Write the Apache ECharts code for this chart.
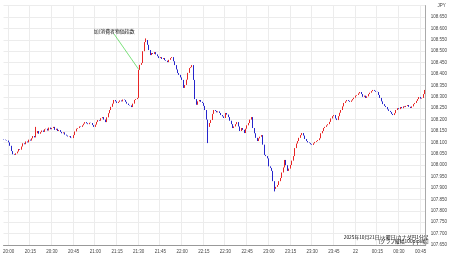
<!DOCTYPE html>
<html><head><meta charset="utf-8">
<script src="https://cdn.jsdelivr.net/npm/echarts@6/dist/echarts.min.js"></script>
<style>html,body{margin:0;padding:0;background:#fff}#c{width:450px;height:258px}</style>
</head><body><div id="c"></div>
<script>
// ---- data ----
const startHour = 19, startMinute = 57;   // first candle 19:57
const firstOpen = 108.114;
const closes = [
108.112,108.110,108.108,
108.100,108.085,108.062,108.048,108.045,108.052,108.060,108.071,108.068,108.082,
108.096,108.092,108.104,108.100,108.112,108.108,108.118,108.128,108.122,108.140,
108.150,108.138,108.145,108.152,108.146,108.158,108.160,108.152,108.165,108.158,
108.163,108.168,108.155,108.160,108.150,108.154,108.146,108.140,108.144,108.134,
108.130,108.126,108.128,108.120,108.119,108.132,108.148,108.160,108.163,108.170,
108.168,108.175,108.182,108.189,108.184,108.180,108.186,108.185,108.176,108.168,
108.178,108.190,108.198,108.195,108.206,108.211,108.200,108.189,108.210,108.228,
108.242,108.256,108.270,108.286,108.280,108.273,108.278,108.284,108.280,108.288,
108.286,108.278,108.270,108.264,108.262,108.255,108.270,108.286,108.290,108.295,
108.418,108.440,108.448,108.500,108.540,108.549,108.528,108.505,108.483,108.492,
108.488,108.496,108.486,108.478,108.470,108.474,108.466,108.470,108.461,108.458,
108.452,108.462,108.470,108.474,108.456,108.439,108.420,108.404,108.396,108.385,
108.374,108.339,108.352,108.375,108.405,108.426,108.430,108.439,108.374,108.290,
108.265,108.280,108.286,108.278,108.273,108.260,108.242,108.200,108.168,108.185,
108.198,108.225,108.242,108.238,108.232,108.236,108.229,108.220,108.214,108.207,
108.229,108.222,108.211,108.195,108.180,108.163,108.170,108.180,108.189,108.170,
108.150,108.163,108.155,108.141,108.160,108.175,108.185,108.200,108.211,108.163,
108.140,108.120,108.106,108.118,108.125,108.132,108.090,108.045,108.040,108.030,
107.995,107.988,107.975,107.930,107.896,107.905,107.913,107.930,107.944,107.968,
107.990,108.023,108.000,107.975,107.985,108.001,108.020,108.040,108.075,108.095,
108.106,108.120,108.132,108.141,108.130,108.115,108.106,108.100,108.097,108.092,
108.089,108.096,108.102,108.106,108.110,108.118,108.140,108.150,108.163,108.168,
108.175,108.180,108.190,108.205,108.215,108.220,108.205,108.198,108.215,108.230,
108.242,108.258,108.273,108.280,108.286,108.282,108.278,108.284,108.290,108.296,
108.305,108.308,108.315,108.321,108.312,108.300,108.305,108.295,108.302,108.312,
108.318,108.325,108.330,108.326,108.322,108.321,108.308,108.295,108.280,108.268,
108.260,108.255,108.245,108.238,108.233,108.225,108.220,108.228,108.242,108.250,
108.246,108.255,108.250,108.258,108.255,108.260,108.264,108.256,108.251,108.258,
108.268,108.273,108.282,108.290,108.299,108.292,108.295,108.312,108.330
];
// explicit wicks: [time, low, high]
const wicks = [['20:19', null, 108.168], ['21:35', null, 108.556], ['22:18', 108.097, null], ['23:04', 107.885, null]];
const yMin = 107.65, yMax = 108.70, yStep = 0.05;
const eventLabel = '加)消費者物価指数';
const eventTime = '21:30', eventPrice = 108.420;
const labelTime = '21:13', labelPrice = 108.590, lineStartPrice = 108.575;
const titleLines = ['2025年10月21日(火曜日)カナダ円1分足', '[グラフ縦幅100pips幅]'];
const currency = 'JPY';
const dateChangeLabel = '22';

// ---- build ----
const times = [];
for (let i = 0; i < closes.length; i++) {
  const m = startHour * 60 + startMinute + i;
  const h = Math.floor(m / 60) % 24, mm = m % 60;
  times.push(String(h).padStart(2, '0') + ':' + String(mm).padStart(2, '0'));
}
const wickMap = {};
wicks.forEach(w => wickMap[w[0]] = w);
const ohlc = closes.map((c, i) => {
  const o = i === 0 ? firstOpen : closes[i - 1];
  let lo = Math.min(o, c), hi = Math.max(o, c);
  const w = wickMap[times[i]];
  if (w) { if (w[1] != null) lo = w[1]; if (w[2] != null) hi = w[2]; }
  return [o, c, lo, hi];
});
const isQuarter = (idx) => /:(00|15|30|45)$/.test(times[idx]);

const chart = echarts.init(document.getElementById('c'), null, {renderer: 'canvas'});
const gridTop = 5.6, gridBottom = 13, gridRight = 20.5;
chart.setOption({
  animation: false,
  backgroundColor: '#fff',
  grid: {left: 0, right: gridRight, top: gridTop, bottom: gridBottom, containLabel: false},
  xAxis: {
    type: 'category', data: times, boundaryGap: true,
    axisLine: {lineStyle: {color: '#999', width: 1}},
    axisTick: {show: false},
    axisLabel: {interval: (i) => isQuarter(i), fontSize: 4.5, color: '#444', margin: 4,
      fontFamily: 'Liberation Sans, Arial, sans-serif',
      formatter: (v) => v === '00:00' ? dateChangeLabel : v},
    splitLine: {show: true, interval: (i) => isQuarter(i), lineStyle: {color: '#ececec', width: 1}}
  },
  yAxis: {
    type: 'value', position: 'right', min: yMin, max: yMax, interval: yStep, scale: true,
    axisLine: {show: true, lineStyle: {color: '#aaa', width: 1}},
    axisTick: {show: false},
    axisLabel: {fontSize: 4.5, color: '#444', margin: 5, showMaxLabel: false,
      fontFamily: 'Liberation Sans, Arial, sans-serif',
      formatter: (v) => v.toFixed(3)},
    splitLine: {show: true, lineStyle: {color: '#ececec', width: 1}}
  },
  series: [{
    type: 'candlestick', data: ohlc, barMaxWidth: 1.3,
    itemStyle: {color: '#e82626', color0: '#2626cc', borderColor: '#e82626', borderColor0: '#2626cc', borderWidth: 1}
  }]
});

const pEnd = chart.convertToPixel({gridIndex: 0}, [times.indexOf(eventTime), eventPrice]);
const pStart = chart.convertToPixel({gridIndex: 0}, [times.indexOf(labelTime), lineStartPrice]);
const pLab = chart.convertToPixel({gridIndex: 0}, [times.indexOf(labelTime), labelPrice]);
const gridRightX = 450 - gridRight;
const bottomY = 258 - gridBottom;
chart.setOption({
  graphic: [
    {type: 'line', shape: {x1: pStart[0], y1: pStart[1], x2: pEnd[0], y2: pEnd[1]}, style: {stroke: '#22cc22', lineWidth: 0.6}, silent: true},
    {type: 'text', x: pLab[0], y: pLab[1], style: {text: eventLabel, fontSize: 4.9, fill: '#111', align: 'center', verticalAlign: 'middle', fontFamily: 'Noto Sans CJK JP'}},
    {type: 'text', x: gridRightX - 1, y: bottomY - 8, style: {text: titleLines[0], fontSize: 4.8, fill: '#000', align: 'right', verticalAlign: 'middle', fontFamily: 'Noto Sans CJK JP'}},
    {type: 'text', x: gridRightX - 1, y: bottomY - 3.5, style: {text: titleLines[1], fontSize: 4.8, fill: '#000', align: 'right', verticalAlign: 'middle', fontFamily: 'Noto Sans CJK JP'}},
    {type: 'text', x: gridRightX + 8, y: 6, style: {text: currency, fontSize: 4.5, fill: '#444', align: 'left', verticalAlign: 'middle', fontFamily: 'Liberation Sans, Arial, sans-serif'}}
  ]
});
</script></body></html>
